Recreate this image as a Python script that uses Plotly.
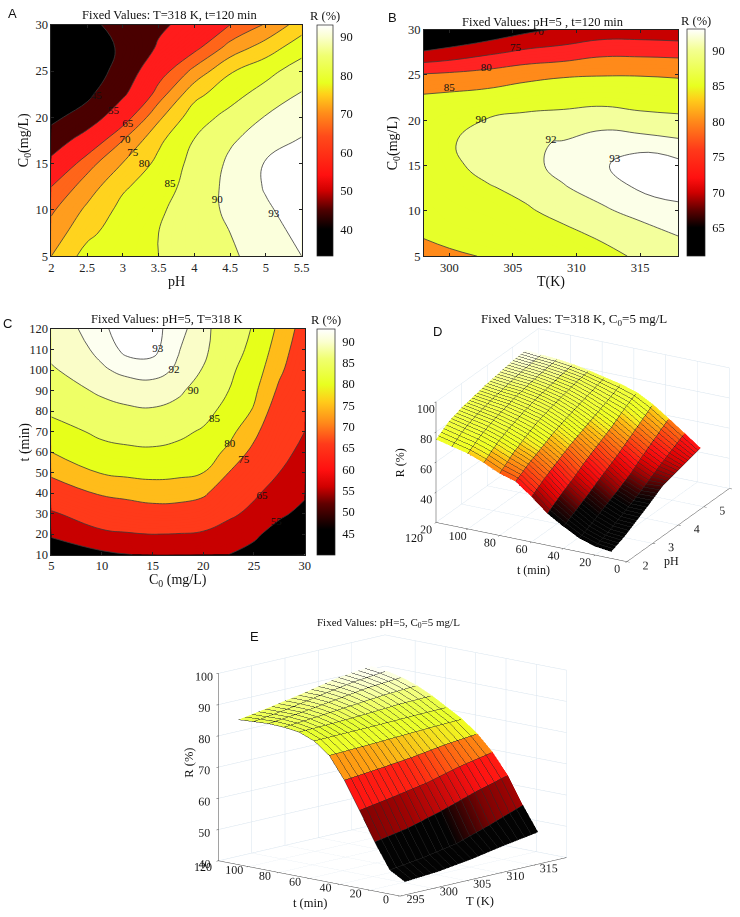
import plotly.graph_objects as go

PAGE_W, PAGE_H = 740, 917
W, H = 770, 925   # the canvas runs a little past the window so 3D tick labels are not cut at the scene edge
SERIF = "Liberation Serif"

# ---------- Panel A ----------
a_ph = [2, 2.5, 3, 3.5, 4, 4.5, 5, 5.5]
a_c0 = [5, 7.5, 10, 12.5, 15, 17.5, 20, 22.5, 25, 27.5, 30]
a_z = [
    [75, 82, 83.5, 85, 87.5, 89.3, 92, 93],
    [72.2, 78.7, 83, 85, 87.7, 90, 92.2, 93.5],
    [69.2, 76, 81.5, 84.3, 87.5, 91, 92.7, 94],
    [65, 72.5, 79.3, 82.8, 87, 91.3, 93.2, 94.4],
    [57.9, 68, 75.2, 81.3, 86.5, 90.8, 93.2, 94.3],
    [49, 60, 70, 79, 85.2, 89.5, 92, 93.2],
    [43, 49, 62, 74, 82.8, 86.5, 90.3, 91.8],
    [40, 43, 53.5, 67.5, 78.5, 83.2, 87, 90.3],
    [38, 39, 49, 62, 71.5, 79.5, 83.4, 87.5],
    [36, 38, 47, 56, 63.5, 72, 77.5, 83],
    [35, 41, 51, 53.5, 58, 65, 70.5, 77.5],
]
a_levels = [45, 55, 65, 70, 75, 80, 85, 90, 93]
a_label_x = [2.63, 2.87, 3.07, 3.03, 3.14, 3.3, 3.66, 4.32, 5.11]
a_label_y = [22.3, 20.6, 19.2, 17.5, 16.1, 14.9, 12.8, 11, 9.5]

# ---------- Panel B ----------
b_t = [298, 300, 303, 306, 309, 312, 315, 318]
b_c0 = [5, 7.5, 10, 12.5, 15, 17.5, 20, 22.5, 25, 27.5, 30]
b_z = [
    [83.3, 84.2, 85.3, 86.2, 87.5, 89, 90.5, 91.2],
    [85.5, 86.5, 87, 88, 89.3, 90.6, 91.5, 92.1],
    [86.5, 87.5, 88.3, 89.6, 91, 91.8, 92.4, 92.8],
    [87.3, 88.5, 89.7, 90.8, 91.9, 92.5, 93.1, 93.3],
    [87.8, 89.3, 91, 91.6, 92.4, 92.9, 93.4, 93.3],
    [88, 89.7, 91.3, 91.8, 92.1, 92.5, 92.7, 92.3],
    [87.5, 88.8, 90.2, 91, 91.2, 91.6, 91, 90.8],
    [85.8, 86.3, 87, 88.2, 88.7, 89, 88.6, 88],
    [80.5, 81, 82, 83.5, 84.5, 84.8, 84.8, 84.5],
    [70.5, 71.7, 74, 76, 77, 78.8, 78.8, 78.5],
    [62, 64, 66, 68.8, 70.8, 72, 72, 71.5],
]
b_levels = [70, 75, 80, 85, 90, 92, 93]
b_label_x = [307, 305.2, 302.9, 300, 302.5, 308, 313]
b_label_y = [29.7, 27.9, 25.7, 23.5, 20, 17.8, 15.7]

# ---------- Panel C ----------
c_c0 = [5, 10, 12.5, 15, 17.5, 20, 22.5, 25, 27.5, 30]
c_t = [10, 20, 30, 40, 50, 60, 70, 80, 90, 100, 110, 120]
c_z = [
    [50, 53, 54.5, 57, 57, 56.5, 55, 51.5, 44, 38],
    [56, 63.5, 64.4, 65.1, 64.8, 64, 60.5, 57, 50.5, 45],
    [64, 70, 71.6, 72.5, 72.5, 71, 67, 62.5, 57, 52],
    [71, 75.8, 76.6, 77.5, 77.2, 76, 71, 66.5, 61, 56.5],
    [76.2, 80.3, 81, 81.3, 81, 80, 75, 70, 65, 60],
    [80, 83.5, 84.2, 84.3, 83.8, 82.5, 79, 73.5, 67.5, 63],
    [83, 86, 86.5, 87, 86, 84.5, 81.5, 76.5, 69.5, 65],
    [85.8, 88.5, 89.5, 89.7, 88.6, 86.5, 83.5, 79.5, 71.5, 67],
    [87.8, 90.7, 91.2, 91.4, 90.8, 88, 85, 81, 74, 69],
    [89.7, 91.8, 92.4, 92.5, 91.8, 89.8, 86, 82.5, 76, 70.5],
    [90.7, 92.4, 93.3, 93.3, 92.1, 90.9, 86.7, 84, 77.5, 71.5],
    [91.2, 92.7, 93.8, 93.4, 92.4, 91.3, 87, 84.7, 79, 72.5],
]
c_levels = [55, 65, 75, 80, 85, 90, 92, 93]
c_label_x = [27.2, 25.8, 24, 22.6, 21.1, 19, 17.1, 15.5]
c_label_y = [26, 38.3, 56, 64, 76, 89.6, 100, 110]

# ---------- Panel D ----------
d_ph = [2, 2.5, 3, 3.5, 4, 4.5, 5, 5.5]
d_t = [10, 20, 30, 40, 50, 60, 70, 80, 90, 100, 110, 120]
d_z = [
    [24.4, 28, 33, 38, 43.5, 46, 48.5, 50.7],
    [25.7, 29, 33.5, 38, 43, 48.5, 53.5, 58.4],
    [29, 33, 38, 42.5, 47.5, 54, 60, 66],
    [34.7, 39.5, 44.5, 50, 55, 61, 67, 73.3],
    [41, 47, 52, 58, 63, 68, 74, 79],
    [50, 56, 61, 66, 70, 74, 78, 82.3],
    [58, 63.5, 68, 72.5, 76, 79, 82, 84.6],
    [61, 68, 73, 77.5, 80.5, 83, 85.5, 87],
    [66, 72.5, 77, 80.5, 83.5, 85.5, 87.5, 89],
    [70, 76, 80, 83, 85.5, 87.5, 89, 90.3],
    [72.5, 78.5, 82, 84.5, 86.5, 88.5, 90, 91],
    [75, 81, 84, 86, 88, 89.5, 91, 92],
]

# ---------- Panel E ----------
e_T = [298, 303, 308, 313, 318]
e_t = [10, 20, 30, 40, 50, 60, 70, 80, 90, 100, 110, 120]
e_z = [
    [42.2, 43, 44.5, 46.5, 48.2],
    [45, 46.5, 48.5, 52, 55.9],
    [53, 55, 58, 61.5, 64.5],
    [62.2, 64, 66, 68.8, 71],
    [70.9, 72, 73.2, 74.8, 75.9],
    [77.9, 78.3, 78.8, 79.3, 79.7],
    [81.6, 81.8, 82, 82.3, 82.5],
    [83.5, 83.8, 84.3, 85, 85.3],
    [84.1, 85, 86, 87, 87.6],
    [84.3, 85.5, 87, 88.5, 89.3],
    [84, 85.5, 87.5, 89.3, 90.4],
    [83.7, 85.5, 87.5, 89.8, 91],
]

# ---------- Styles ----------
a_fill = ["#000000", "#4a0000", "#ff1c1c", "#ff651a", "#ff9d1e", "#ffd31e", "#e8ff22", "#f0ff72", "#fbffdc", "#ffffff"]
b_fill = ["#000000", "#c80000", "#ff2323", "#ff8a1a", "#e6ff2a", "#f3ff9c", "#fcffe8", "#ffffff"]
c_fill = ["#000000", "#c80000", "#ff3a1a", "#ffbc1a", "#e6ff1a", "#eeff66", "#fafdc8", "#fdfff0", "#ffffff"]
a_stops = [(33, "#000000"), (40, "#000000"), (45, "#500000"), (50, "#d00000"), (54, "#ff1010"), (64, "#ff4a1a"),
           (70, "#ff8c1a"), (75, "#ffd01a"), (78, "#e8ff20"), (85, "#f0ff70"), (90, "#fbffd0"), (93, "#ffffff")]
b_stops = [(61, "#000000"), (65, "#000000"), (67.5, "#600000"), (70, "#d00000"), (72, "#ff1010"), (76, "#ff3a1a"),
           (80, "#ff8a1a"), (83, "#ffcc1a"), (85, "#e8ff20"), (90, "#f3ff90"), (93, "#ffffff")]
c_stops = [(40, "#000000"), (46, "#000000"), (52, "#600000"), (56, "#d00000"), (60, "#ff1010"), (66, "#ff3a1a"),
           (71, "#ff8a1a"), (76, "#ffcc1a"), (80, "#e8ff20"), (86, "#f0ff70"), (90, "#fbffd0"), (93, "#ffffff")]
d_stops = [(24, "#000000"), (38, "#000000"), (42, "#300000"), (46, "#900000"), (50, "#e00000"), (54, "#ff1010"),
           (59, "#ff4a10"), (63, "#ff8010"), (68, "#ffc010"), (70, "#f8f020"), (72, "#f0ff20"), (86, "#f4ff50"),
           (90, "#faffb0"), (92, "#ffffff")]
e_stops = [(42, "#000000"), (53, "#000000"), (57, "#7a0000"), (60, "#a00000"), (66, "#ff1010"), (69, "#ff2010"),
           (73, "#ff8010"), (75, "#ffa010"), (78, "#f0ff20"), (83, "#e8ff30"), (86, "#f2ff70"), (91, "#ffffff")]

BAND_START, BAND_END = 30, 100


def norm(stops):
    lo, hi = stops[0][0], stops[-1][0]
    return [[(v - lo) / (hi - lo), c] for v, c in stops]


def stepped(levels, fills):
    nc = BAND_END - BAND_START + 1
    breaks = [0] + [(lv - BAND_START + 0.5) / nc for lv in levels] + [1]
    out = []
    for i, col in enumerate(fills):
        out.append([breaks[i], col])
        out.append([breaks[i + 1], col])
    return out


def px_x(p):
    return p / W


def px_y(p):
    return 1 - p / H


fig = go.Figure()
annotations = []


def text(xp, yp, s, size=12.5, family=SERIF, angle=0):
    annotations.append(dict(x=px_x(xp), y=px_y(yp), xref="paper", yref="paper", text=s, showarrow=False,
                            xanchor="center", yanchor="middle", textangle=angle,
                            font=dict(size=size, family=family, color="#111")))


def contour_panel(idx, x, y, z, levels, fills, stops, lab_x, lab_y, box, bar, cticks, xticks, yticks, xtitle, ytitle, ytx):
    xa, ya = ("x" if idx == 1 else f"x{idx}"), ("y" if idx == 1 else f"y{idx}")
    fig.add_trace(go.Contour(x=x, y=y, z=z, xaxis=xa, yaxis=ya, showscale=False, hoverinfo="skip",
                             autocontour=False, colorscale=stepped(levels, fills),
                             contours=dict(coloring="fill", start=BAND_START, end=BAND_END, size=1, showlines=False),
                             line=dict(width=0, smoothing=1.3)))
    for lv in levels:
        fig.add_trace(go.Contour(x=x, y=y, z=z, xaxis=xa, yaxis=ya, showscale=False, hoverinfo="skip",
                                 autocontour=False,
                                 contours=dict(coloring="none", start=lv, end=lv, size=1),
                                 line=dict(color="#3a3a3a", width=0.8, smoothing=1.3)))
    fig.add_trace(go.Scatter(x=[x[0]], y=[y[0]], xaxis=xa, yaxis=ya, mode="markers", hoverinfo="skip", showlegend=False,
                             marker=dict(size=1, opacity=0, color=[stops[0][0]], cmin=stops[0][0], cmax=stops[-1][0],
                                         colorscale=norm(stops), showscale=True,
                                         colorbar=dict(x=px_x(bar[0]), xanchor="left", xpad=0, ypad=0,
                                                       y=px_y(box[3]), yanchor="bottom", lenmode="fraction",
                                                       len=(box[3] - box[1]) / H, thickness=bar[1] - bar[0],
                                                       thicknessmode="pixels", outlinecolor="#222", outlinewidth=0.7,
                                                       tickvals=cticks, ticks="outside", ticklen=5,
                                                       tickcolor="rgba(0,0,0,0)",
                                                       tickfont=dict(family=SERIF, size=12.5, color="#111")))))
    fig.add_trace(go.Scatter(x=lab_x, y=lab_y, xaxis=xa, yaxis=ya, mode="text", text=[str(v) for v in levels],
                             textfont=dict(family=SERIF, size=11, color="#111"), hoverinfo="skip", showlegend=False))
    common = dict(showline=True, linecolor="#222", linewidth=0.8, mirror="ticks", ticks="inside", ticklen=3,
                  tickcolor="#222", showgrid=False, zeroline=False, tickfont=dict(family=SERIF, size=12.5, color="#222"))
    fig.update_layout(**{
        ("xaxis" if idx == 1 else f"xaxis{idx}"): dict(domain=[px_x(box[0]), px_x(box[2])],
                                                       range=[x[0], x[-1]], tickvals=xticks, anchor=ya, **common),
        ("yaxis" if idx == 1 else f"yaxis{idx}"): dict(domain=[px_y(box[3]), px_y(box[1])],
                                                       range=[y[0], y[-1]], tickvals=yticks, anchor=xa, **common),
    })
    text((box[0] + box[2]) / 2, box[3] + 26, xtitle, size=14)
    text(ytx, (box[1] + box[3]) / 2, ytitle, size=14, angle=-90)
    text((bar[0] + bar[1]) / 2, box[1] - 9, "R (%)", size=12.5)


contour_panel(1, a_ph, a_c0, a_z, a_levels, a_fill, a_stops, a_label_x, a_label_y,
              (49, 18, 303, 253), (319, 335), [40, 50, 60, 70, 80, 90],
              [2, 2.5, 3, 3.5, 4, 4.5, 5, 5.5], [5, 10, 15, 20, 25, 30], "pH", "C<sub>0</sub>(mg/L)", 22)
contour_panel(2, b_t, b_c0, b_z, b_levels, b_fill, b_stops, b_label_x, b_label_y,
              (427, 23, 685, 253), (694, 712), [65, 70, 75, 80, 85, 90],
              [300, 305, 310, 315], [5, 10, 15, 20, 25, 30], "T(K)", "C<sub>0</sub>(mg/L)", 397)
contour_panel(3, c_c0, c_t, c_z, c_levels, c_fill, c_stops, c_label_x, c_label_y,
              (49, 327, 306, 556), (319, 337), [45, 50, 55, 60, 65, 70, 75, 80, 85, 90],
              [5, 10, 15, 20, 25, 30], [10, 20, 30, 40, 50, 60, 70, 80, 90, 100, 110, 120], "C<sub>0</sub> (mg/L)", "t (min)", 22)


def faceted_rows(y, z):
    """Repeat each t row so that every t band carries one colour per column, as the faceted reference does."""
    yy, zz, cc = [], [], []
    for i in range(len(y) - 1):
        mean = [(p + q) / 2 for p, q in zip(z[i], z[i + 1])]
        yy += [y[i], y[i + 1]]
        zz += [z[i], z[i + 1]]
        cc += [mean, mean]
    return yy, zz, cc


def surface_panel(name, x, y, z, stops, xr, yr, zr, xtick, ytick, ztick, eye, aspect, dom, step, center):
    yy, zz, cc = faceted_rows(y, z)
    fig.add_trace(go.Surface(x=x, y=yy, z=zz, surfacecolor=cc, scene=name, showscale=False, colorscale=norm(stops),
                             cmin=stops[0][0], cmax=stops[-1][0], hoverinfo="skip", opacity=0.99,
                             lighting=dict(ambient=1, diffuse=0, specular=0, roughness=1, fresnel=0),
                             contours=dict(
                                 x=dict(show=True, start=x[0], end=x[-1], size=step[0], color="#2a2a2a", width=1),
                                 y=dict(show=True, start=y[0], end=y[-1], size=step[1], color="#2a2a2a", width=1),
                             )))
    ax = dict(showbackground=True, backgroundcolor="white", gridcolor="#d8e4ee", gridwidth=1, showline=True,
              linecolor="#444", linewidth=1, zeroline=False, showspikes=False, ticks="outside", ticklen=3,
              tickcolor="#444", tickangle=0, title=dict(text=""), tickfont=dict(family=SERIF, size=12, color="#222"))
    fig.update_layout(**{name: dict(
        domain=dict(x=[px_x(dom[0]), px_x(dom[2])], y=[px_y(dom[3]), px_y(dom[1])]),
        aspectmode="manual", aspectratio=dict(x=aspect[0], y=aspect[1], z=aspect[2]),
        camera=dict(projection=dict(type="orthographic"), eye=dict(x=eye[0], y=eye[1], z=eye[2]),
                    up=dict(x=0, y=0, z=1), center=dict(x=center[0], y=center[1], z=center[2])),
        xaxis=dict(range=xr, tickvals=xtick, **ax),
        yaxis=dict(range=yr, tickvals=ytick, **ax),
        zaxis=dict(range=zr, tickvals=ztick, **ax),
    )})


surface_panel("scene", d_ph, d_t, d_z, d_stops, [2, 6], [0, 120], [20, 100],
              [2, 3, 4, 5, 6], [0, 20, 40, 60, 80, 100], [20, 40, 60, 80, 100],
              (-2.06, -1.04, 0.97), (1.51, 1.51, 0.91), (400, 298, 760, 589), (0.1, 10), (-0.026, 0.051, 0.012))
surface_panel("scene2", e_T, e_t, e_z, e_stops, [295, 320], [0, 120], [40, 100],
              [295, 300, 305, 310, 315], [0, 20, 40, 60, 80, 100], [40, 50, 60, 70, 80, 90, 100],
              (-1.8, -1.65, 0.53), (1.67, 1.67, 1.3), (182, 620, 609, 920), (1, 10), (0, 0, 0))

text(169, 8, "Fixed Values: T=318 K, t=120 min")
text(548, 15, "Fixed Values: pH=5 , t=120 min")
text(166, 317, "Fixed Values: pH=5, T=318 K")
text(579, 317, "Fixed Values: T=318 K, C<sub>0</sub>=5 mg/L", size=13)
text(391, 625, "Fixed Values: pH=5, C<sub>0</sub>=5 mg/L", size=11)
text(538, 572, "t (min)", size=12)
text(678, 563, "pH", size=12)
text(403, 463, "R (%)", size=12, angle=-90)
text(417, 539, "120", size=12)
text(311, 910, "t (min)", size=12.5)
text(484, 908, "T (K)", size=12.5)
text(189, 767, "R (%)", size=12.5, angle=-90)
text(203, 873, "120", size=12)
for xp, yp, s in [(10, 7, "A"), (395, 11, "B"), (5, 321, "C"), (441, 329, "D"), (255, 639, "E")]:
    text(xp, yp, s, size=13, family="Liberation Sans")

fig.update_layout(width=W, height=H, margin=dict(l=0, r=0, t=0, b=0), paper_bgcolor="white", plot_bgcolor="white",
                  showlegend=False, annotations=annotations)
fig.write_html("out.html", config={"displayModeBar": False},
               post_script="document.body.style.margin='0';document.documentElement.style.overflow='hidden';"
                           "document.body.style.overflow='hidden';")
